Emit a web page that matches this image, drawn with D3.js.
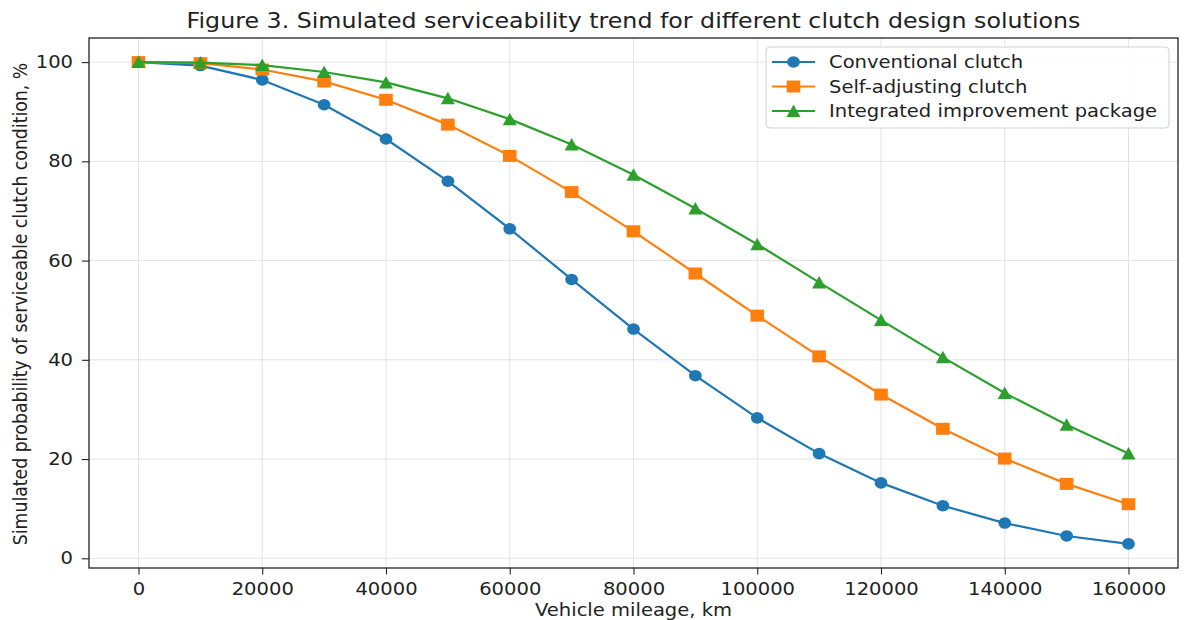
<!DOCTYPE html>
<html>
<head>
<meta charset="utf-8">
<script src="https://cdn.jsdelivr.net/npm/d3@7"></script>
<style>
  body { margin: 0; background: #fff; }
  text { font-family: "DejaVu Sans", sans-serif; fill: #222; }
</style>
</head>
<body>
<svg id="chart" width="1185" height="620"></svg>
<script>
(function () {
    'use strict';

    // mileage, km
    var mileage = [0, 10000, 20000, 30000, 40000, 50000, 60000, 70000, 80000,
                   90000, 100000, 110000, 120000, 130000, 140000, 150000, 160000];
    var conventional = [100, 99.3, 96.4, 91.4, 84.5, 76.0, 66.4, 56.2, 46.2,
                        36.8, 28.3, 21.1, 15.2, 10.6, 7.1, 4.5, 2.9];
    var selfAdjusting = [100, 99.8, 98.5, 96.1, 92.4, 87.4, 81.1, 73.8, 65.9,
                         57.4, 48.9, 40.7, 33.0, 26.1, 20.1, 15.0, 10.9];
    var integrated = [100, 99.9, 99.4, 98.0, 95.9, 92.7, 88.5, 83.4, 77.3,
                      70.5, 63.3, 55.6, 48.0, 40.5, 33.3, 26.9, 21.1];
    var xTicks = [0, 20000, 40000, 60000, 80000, 100000, 120000, 140000, 160000];
    var yTicks = [0, 20, 40, 60, 80, 100];
    var seriesNames = ['Conventional clutch', 'Self-adjusting clutch', 'Integrated improvement package'];
    var seriesColors = ['#1f77b4', '#ff7f0e', '#2ca02c'];
    var seriesMarkers = ['circle', 'square', 'triangle'];

    var series = [conventional, selfAdjusting, integrated].map(function (vals, i) {
        return {
            name: seriesNames[i],
            color: seriesColors[i],
            marker: seriesMarkers[i],
            points: vals.map(function (v, j) { return { x: mileage[j], y: v }; })
        };
    });

    // the picture is a bit wider than tall, so text gets stretched sideways
    var sx = 1.13;
    var fs = 17.3;

    var svg = d3.select('#chart');
    var left = 89, right = 1178, top = 38, bottom = 568;

    var x = d3.scaleLinear().domain([-8000, 168000]).range([left, right]);
    var y = d3.scaleLinear().domain([-1.955, 104.855]).range([bottom, top]);

    // grid
    var grid = svg.append('g');
    grid.selectAll('.gx').data(xTicks).enter().append('line')
        .attr('x1', function (d) { return x(d); }).attr('x2', function (d) { return x(d); })
        .attr('y1', top).attr('y2', bottom)
        .attr('stroke', '#e3e3e3').attr('stroke-width', 1);
    grid.selectAll('.gy').data(yTicks).enter().append('line')
        .attr('y1', function (d) { return y(d); }).attr('y2', function (d) { return y(d); })
        .attr('x1', left).attr('x2', right)
        .attr('stroke', '#e3e3e3').attr('stroke-width', 1);

    // axes
    var xAxis = svg.append('g').attr('transform', 'translate(0,' + bottom + ')')
        .call(d3.axisBottom(x).tickValues(xTicks).tickFormat(d3.format('d')).tickSizeOuter(0).tickSize(6.5).tickPadding(8));
    var yAxis = svg.append('g').attr('transform', 'translate(' + left + ',0)')
        .call(d3.axisLeft(y).tickValues(yTicks).tickFormat(d3.format('d')).tickSizeOuter(0).tickSize(7).tickPadding(9));
    [xAxis, yAxis].forEach(function (a) {
        a.select('.domain').remove();
        a.selectAll('line').attr('stroke', '#222').attr('stroke-width', 1.1);
        a.selectAll('text').attr('font-size', fs).attr('font-family', '"DejaVu Sans", sans-serif')
            .attr('fill', '#222').attr('transform', 'scale(' + sx + ',1)');
    });
    yAxis.selectAll('text').attr('x', -16 / sx);

    // frame
    svg.append('rect').attr('x', left).attr('y', top)
        .attr('width', right - left).attr('height', bottom - top)
        .attr('fill', 'none').attr('stroke', '#222').attr('stroke-width', 1.3);

    var line = d3.line().x(function (d) { return x(d.x); }).y(function (d) { return y(d.y); });

    function drawMarker(sel, kind, color) {
        if (kind === 'circle') {
            sel.append('ellipse').attr('rx', 6.4).attr('ry', 5.8).attr('fill', color);
        } else if (kind === 'square') {
            sel.append('rect').attr('x', -6.8).attr('y', -6).attr('width', 13.6).attr('height', 12).attr('fill', color);
        } else {
            sel.append('path').attr('d', 'M0,-6.5L7,6L-7,6Z').attr('fill', color);
        }
    }

    var plot = svg.append('g');
    series.forEach(function (s) {
        plot.append('path').datum(s.points)
            .attr('d', line).attr('fill', 'none')
            .attr('stroke', s.color).attr('stroke-width', 2.2);
        plot.selectAll(null).data(s.points).enter().append('g')
            .attr('transform', function (d) { return 'translate(' + x(d.x) + ',' + y(d.y) + ')'; })
            .each(function () { drawMarker(d3.select(this), s.marker, s.color); });
    });

    // legend
    var lg = svg.append('g').attr('transform', 'translate(766,47)');
    lg.append('rect').attr('width', 403).attr('height', 81).attr('rx', 4)
        .attr('fill', 'rgba(255,255,255,0.85)').attr('stroke', '#d0d0d0').attr('stroke-width', 1);
    series.forEach(function (s, i) {
        var row = lg.append('g').attr('transform', 'translate(0,' + (15 + i * 24.5) + ')');
        row.append('line').attr('x1', 6).attr('x2', 49).attr('y1', 0).attr('y2', 0)
            .attr('stroke', s.color).attr('stroke-width', 2.2);
        drawMarker(row.append('g').attr('transform', 'translate(27.5,0)'), s.marker, s.color);
        row.append('text').attr('transform', 'translate(63,0) scale(' + sx + ',1)')
            .attr('dy', '0.35em').attr('font-size', fs).text(s.name);
    });

    // titles
    svg.append('text').attr('transform', 'translate(' + ((left + right) / 2) + ',28) scale(' + sx + ',1)')
        .attr('text-anchor', 'middle').attr('font-size', 21)
        .text('Figure 3. Simulated serviceability trend for different clutch design solutions');
    svg.append('text').attr('transform', 'translate(' + ((left + right) / 2) + ',616) scale(' + sx + ',1)')
        .attr('text-anchor', 'middle').attr('font-size', fs)
        .text('Vehicle mileage, km');
    svg.append('text').attr('transform', 'translate(27,' + ((top + bottom) / 2 + 1) + ') scale(' + sx + ',1) rotate(-90)')
        .attr('text-anchor', 'middle').attr('font-size', fs)
        .text('Simulated probability of serviceable clutch condition, %');
}());
</script>
</body>
</html>
